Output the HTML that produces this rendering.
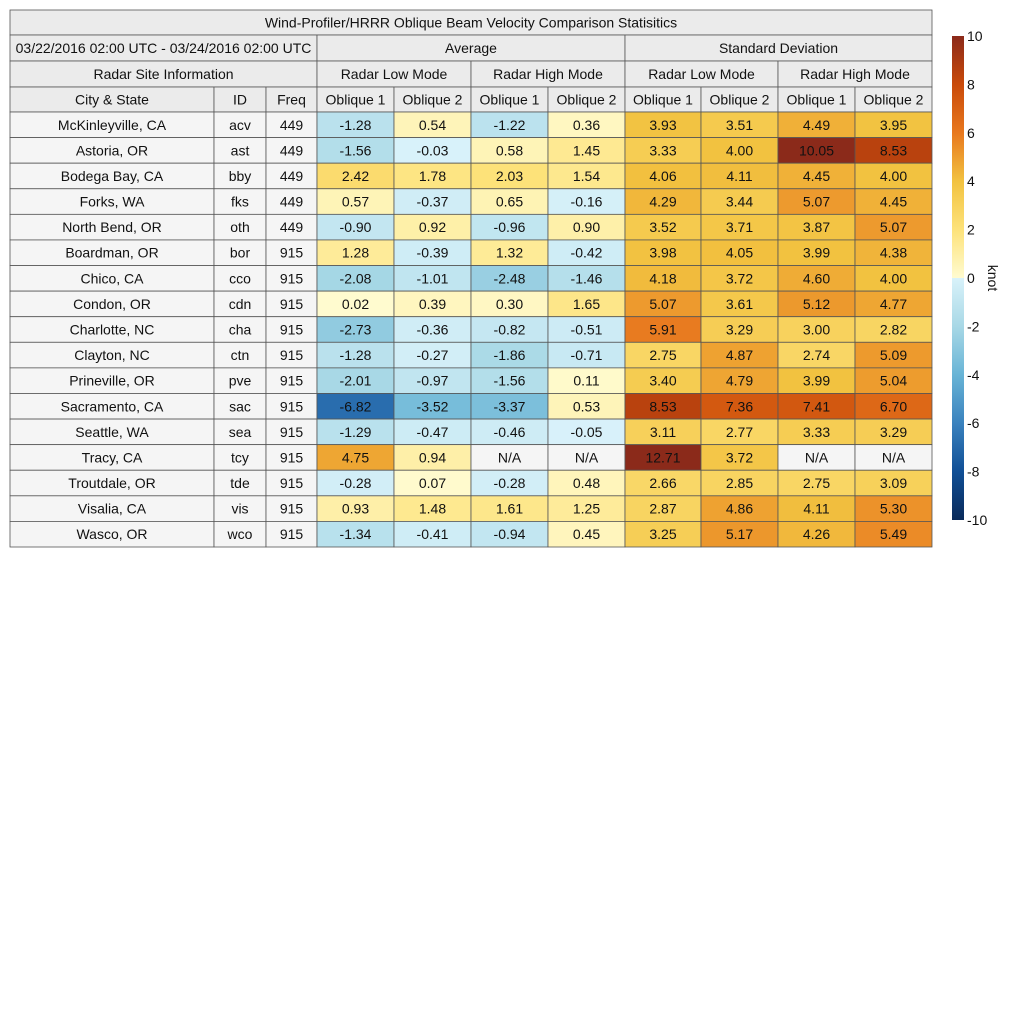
<!DOCTYPE html>
<html><head><meta charset="utf-8"><style>
body{margin:0;background:#fff;}
svg text{font-family:"Liberation Sans",Arial,sans-serif;font-size:14px;fill:#111;}
</style></head><body>
<svg id="chart" width="1024" height="1024" xmlns="http://www.w3.org/2000/svg">
<defs>
<linearGradient id="cbgrad" x1="0" y1="1" x2="0" y2="0">
<stop offset="0" stop-color="#0a2a5a"/><stop offset="0.1" stop-color="#104f96"/><stop offset="0.2" stop-color="#3a82be"/><stop offset="0.3" stop-color="#68b4d6"/><stop offset="0.4" stop-color="#a8d8e6"/><stop offset="0.5" stop-color="#d9f2fa"/>
<stop offset="0.5" stop-color="#fffbd0"/><stop offset="0.6" stop-color="#fde27a"/><stop offset="0.7" stop-color="#f2c240"/><stop offset="0.8" stop-color="#e8781e"/><stop offset="0.9" stop-color="#c94a0a"/><stop offset="1" stop-color="#8b2a1a"/>
</linearGradient>
</defs>
<g id="tbl"></g>
<g id="cb"></g>
</svg>
<script>
const cities=["McKinleyville, CA","Astoria, OR","Bodega Bay, CA","Forks, WA","North Bend, OR","Boardman, OR","Chico, CA","Condon, OR","Charlotte, NC","Clayton, NC","Prineville, OR","Sacramento, CA","Seattle, WA","Tracy, CA","Troutdale, OR","Visalia, CA","Wasco, OR"];
const ids=["acv","ast","bby","fks","oth","bor","cco","cdn","cha","ctn","pve","sac","sea","tcy","tde","vis","wco"];
const freqs=[449,449,449,449,449,915,915,915,915,915,915,915,915,915,915,915,915];
const avgLow1=[-1.28,-1.56,2.42,0.57,-0.90,1.28,-2.08,0.02,-2.73,-1.28,-2.01,-6.82,-1.29,4.75,-0.28,0.93,-1.34];
const avgLow2=[0.54,-0.03,1.78,-0.37,0.92,-0.39,-1.01,0.39,-0.36,-0.27,-0.97,-3.52,-0.47,0.94,0.07,1.48,-0.41];
const avgHigh1=[-1.22,0.58,2.03,0.65,-0.96,1.32,-2.48,0.30,-0.82,-1.86,-1.56,-3.37,-0.46,null,-0.28,1.61,-0.94];
const avgHigh2=[0.36,1.45,1.54,-0.16,0.90,-0.42,-1.46,1.65,-0.51,-0.71,0.11,0.53,-0.05,null,0.48,1.25,0.45];
const sdLow1=[3.93,3.33,4.06,4.29,3.52,3.98,4.18,5.07,5.91,2.75,3.40,8.53,3.11,12.71,2.66,2.87,3.25];
const sdLow2=[3.51,4.00,4.11,3.44,3.71,4.05,3.72,3.61,3.29,4.87,4.79,7.36,2.77,3.72,2.85,4.86,5.17];
const sdHigh1=[4.49,10.05,4.45,5.07,3.87,3.99,4.60,5.12,3.00,2.74,3.99,7.41,3.33,null,2.75,4.11,4.26];
const sdHigh2=[3.95,8.53,4.00,4.45,5.07,4.38,4.00,4.77,2.82,5.09,5.04,6.70,3.29,null,3.09,5.30,5.49];
const cbTicks=[10,8,6,4,2,0,-2,-4,-6,-8,-10];

const posStops=[[0,[255,251,208]],[2,[253,226,122]],[4,[242,194,64]],[6,[232,120,30]],[8,[201,74,10]],[10,[139,42,26]]];
const negStops=[[0,[217,242,250]],[-2,[168,216,230]],[-4,[104,180,214]],[-6,[58,130,190]],[-8,[16,79,150]],[-10,[10,42,90]]];
function color(v){
  if(v===null)return "#f5f5f5";
  let s=v>=0?posStops:negStops; let a=Math.min(Math.abs(v),10);
  for(let i=0;i<s.length-1;i++){const a0=Math.abs(s[i][0]),a1=Math.abs(s[i+1][0]);
    if(a<=a1){const t=(a-a0)/(a1-a0);const c=s[i][1].map((x,k)=>Math.round(x+(s[i+1][1][k]-x)*t));return `rgb(${c})`;}}
  return `rgb(${s[s.length-1][1]})`;
}
const NS="http://www.w3.org/2000/svg";
const tbl=document.getElementById('tbl');
function cell(x,y,w,h,fill,txt,name){
  const g=document.createElementNS(NS,'g');
  
  
  const r=document.createElementNS(NS,'rect');
  r.setAttribute('x',x);r.setAttribute('y',y);r.setAttribute('width',w);r.setAttribute('height',h);
  r.setAttribute('fill',fill);r.setAttribute('stroke','#555');r.setAttribute('stroke-width','0.8');
  g.appendChild(r);
  const t=document.createElementNS(NS,'text');
  t.setAttribute('x',x+w/2);t.setAttribute('y',y+h/2+5);t.setAttribute('text-anchor','middle');
  t.textContent=txt;g.appendChild(t);tbl.appendChild(g);
}
const cx=[10,214,266,317,394,471,548,625,701,778,855,932];
const H='#ebebeb';
cell(10,10,922,25,H,"Wind-Profiler/HRRR Oblique Beam Velocity Comparison Statisitics","table-title");
cell(10,35,307,26,H,"03/22/2016 02:00 UTC - 03/24/2016 02:00 UTC","date-range");
cell(317,35,308,26,H,"Average","average-header");
cell(625,35,307,26,H,"Standard Deviation","std-dev-header");
cell(10,61,307,26,H,"Radar Site Information","site-info-header");
const modes=["Radar Low Mode","Radar High Mode","Radar Low Mode","Radar High Mode"];
for(let i=0;i<4;i++)cell(cx[3+2*i],61,cx[5+2*i]-cx[3+2*i],26,H,modes[i],"mode-header");
const heads=["City & State","ID","Freq","Oblique 1","Oblique 2","Oblique 1","Oblique 2","Oblique 1","Oblique 2","Oblique 1","Oblique 2"];
for(let i=0;i<11;i++)cell(cx[i],87,cx[i+1]-cx[i],25,H,heads[i],"column-header");
const series=[avgLow1,avgLow2,avgHigh1,avgHigh2,sdLow1,sdLow2,sdHigh1,sdHigh2];
const rh=(547-112)/17;
for(let r=0;r<cities.length;r++){
  const y=112+r*rh;
  cell(cx[0],y,cx[1]-cx[0],rh,'#f5f5f5',cities[r],"city-cell");
  cell(cx[1],y,cx[2]-cx[1],rh,'#f5f5f5',ids[r],"id-cell");
  cell(cx[2],y,cx[3]-cx[2],rh,'#f5f5f5',freqs[r],"freq-cell");
  for(let c=0;c<8;c++){const v=series[c][r];
    cell(cx[3+c],y,cx[4+c]-cx[3+c],rh,color(v),v===null?"N/A":v.toFixed(2),"value-cell");}
}
const cb=document.getElementById('cb');
const cbTop=36,cbBot=520;
const cy=v=>cbBot-(v+10)/20*(cbBot-cbTop);
const bar=document.createElementNS(NS,'rect');
bar.setAttribute('x',952);bar.setAttribute('y',cbTop);bar.setAttribute('width',12);bar.setAttribute('height',cbBot-cbTop);bar.setAttribute('fill','url(#cbgrad)');


cb.appendChild(bar);
cbTicks.forEach(v=>{const t=document.createElementNS(NS,'text');
  t.setAttribute('x',967);t.setAttribute('y',cy(v)+5);t.textContent=v;
  
  
  cb.appendChild(t);});
const lab=document.createElementNS(NS,'text');
lab.setAttribute('transform','translate(988,278) rotate(90)');lab.setAttribute('text-anchor','middle');lab.textContent='knot';


cb.appendChild(lab);
</script>
</body></html>
